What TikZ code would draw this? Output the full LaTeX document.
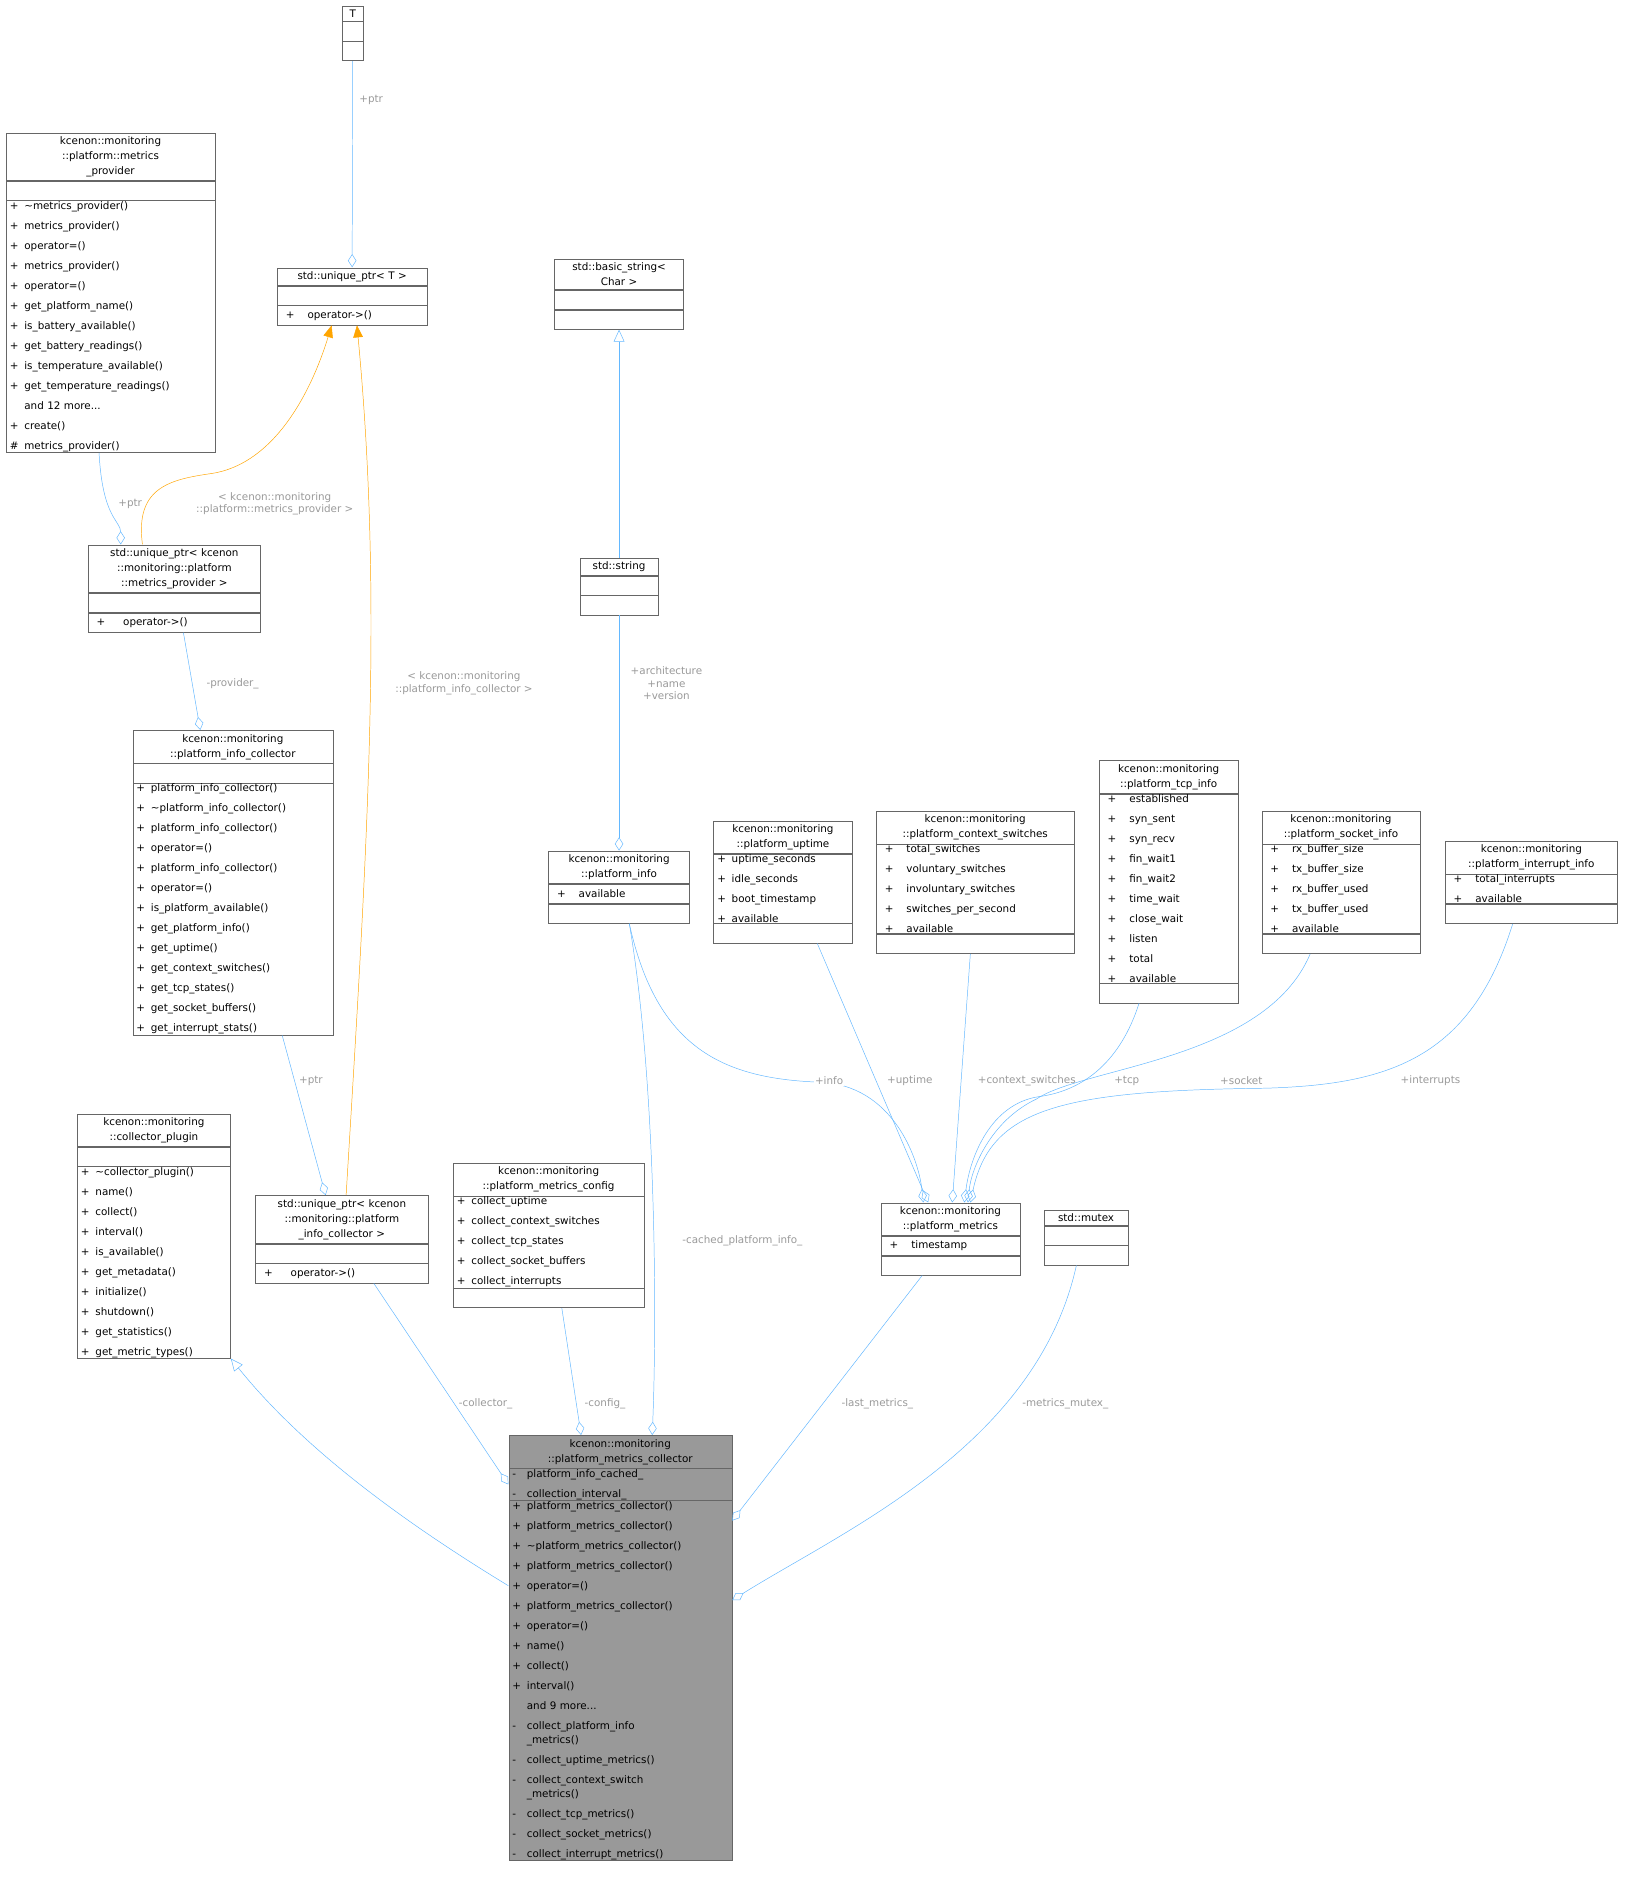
\documentclass[tikz,border=0pt]{standalone}
\usepackage{fontspec}
\setmainfont{DejaVu Sans}
\usetikzlibrary{arrows.meta,fit}
\definecolor{edgec}{HTML}{63B8FF}
\definecolor{orng}{HTML}{FFA500}
\definecolor{lblc}{HTML}{9A9A9A}
\definecolor{boxc}{HTML}{666666}
\definecolor{mainf}{HTML}{999999}
\newcommand\titlefont{\fontsize{8.6}{12.5}\selectfont}
\newcommand\memfont{\fontsize{8.6}{16.6}\selectfont}
\newcommand\vis[1]{\makebox[12pt][l]{#1}}
\newcommand\visw[1]{\makebox[22pt][l]{\hspace{4pt}#1}}
\newcommand\ubox[8]{%
 \node[ttl, fill=#8, text width=#4pt-4pt] (#1-t) at (#2,#3) {#5};
 \node[mem, fill=#8, text width=#4pt-6pt] (#1-a) at (#1-t.south west) {#6};
 \node[mem, fill=#8, text width=#4pt-6pt] (#1-m) at (#1-a.south west) {#7};
 \node[fit=(#1-t)(#1-m), inner sep=0pt] (#1) {};
}
\tikzset{
 ttl/.style={draw=boxc, anchor=north west, align=center, inner xsep=2pt, inner ysep=3pt, font=\titlefont},
 mem/.style={draw=boxc, anchor=north west, align=left, inner xsep=3pt, inner ysep=0.5pt, font=\memfont, minimum height=16pt},
 agg/.style={draw=edgec, -{Diamond[open,length=11pt,width=7pt]}},
 inh/.style={draw=edgec, -{Triangle[open,length=10pt,width=9pt]}},
 tmpl/.style={draw=orng, -{Triangle[length=10pt,width=8pt]}},
 lbl/.style={text=lblc, font=\fontsize{8.6}{10.5}\selectfont, align=center}
}
\begin{document}
\begin{tikzpicture}[x=1pt,y=-1pt]
\useasboundingbox[fill=white] (0,0) rectangle (1350,1570);

\ubox{T}{284}{5}{17}{T}{}{}{white}
\ubox{mp}{5}{110}{173}{kcenon::monitoring\\::platform::metrics\\\_provider}{}{%
\vis{+}\textasciitilde metrics\_provider()\\
\vis{+}metrics\_provider()\\
\vis{+}operator=()\\
\vis{+}metrics\_provider()\\
\vis{+}operator=()\\
\vis{+}get\_platform\_name()\\
\vis{+}is\_battery\_available()\\
\vis{+}get\_battery\_readings()\\
\vis{+}is\_temperature\_available()\\
\vis{+}get\_temperature\_readings()\\
\vis{}and~12~more...\\
\vis{+}create()\\
\vis{\#}metrics\_provider()}{white}
\ubox{upt}{230}{222}{124}{std::unique\_ptr< T >}{}{\visw{+}operator->()}{white}
\ubox{bs}{460}{215}{107}{std::basic\_string<\\Char >}{}{}{white}
\ubox{upmp}{73}{452}{143}{std::unique\_ptr< kcenon\\::monitoring::platform\\::metrics\_provider >}{}{\visw{+}\hspace{4pt}operator->()}{white}
\ubox{str}{481}{463}{65}{std::string}{}{}{white}
\ubox{pic}{110}{606}{166}{kcenon::monitoring\\::platform\_info\_collector}{}{%
\vis{+}platform\_info\_collector()\\
\vis{+}\textasciitilde platform\_info\_collector()\\
\vis{+}platform\_info\_collector()\\
\vis{+}operator=()\\
\vis{+}platform\_info\_collector()\\
\vis{+}operator=()\\
\vis{+}is\_platform\_available()\\
\vis{+}get\_platform\_info()\\
\vis{+}get\_uptime()\\
\vis{+}get\_context\_switches()\\
\vis{+}get\_tcp\_states()\\
\vis{+}get\_socket\_buffers()\\
\vis{+}get\_interrupt\_stats()}{white}
\ubox{pinfo}{455}{706}{117}{kcenon::monitoring\\::platform\_info}{\visw{+}available}{}{white}
\ubox{up}{592}{681}{115}{kcenon::monitoring\\::platform\_uptime}{%
\vis{+}uptime\_seconds\\
\vis{+}idle\_seconds\\
\vis{+}boot\_timestamp\\
\vis{+}available}{}{white}
\ubox{cs}{727}{673}{164}{kcenon::monitoring\\::platform\_context\_switches}{%
\visw{+}total\_switches\\
\visw{+}voluntary\_switches\\
\visw{+}involuntary\_switches\\
\visw{+}switches\_per\_second\\
\visw{+}available}{}{white}
\ubox{tcp}{912}{631}{115}{kcenon::monitoring\\::platform\_tcp\_info}{%
\visw{+}established\\
\visw{+}syn\_sent\\
\visw{+}syn\_recv\\
\visw{+}fin\_wait1\\
\visw{+}fin\_wait2\\
\visw{+}time\_wait\\
\visw{+}close\_wait\\
\visw{+}listen\\
\visw{+}total\\
\visw{+}available}{}{white}
\ubox{sock}{1047}{673}{131}{kcenon::monitoring\\::platform\_socket\_info}{%
\visw{+}rx\_buffer\_size\\
\visw{+}tx\_buffer\_size\\
\visw{+}rx\_buffer\_used\\
\visw{+}tx\_buffer\_used\\
\visw{+}available}{}{white}
\ubox{intr}{1199}{698}{143}{kcenon::monitoring\\::platform\_interrupt\_info}{%
\visw{+}total\_interrupts\\
\visw{+}available}{}{white}
\ubox{plug}{64}{924}{127}{kcenon::monitoring\\::collector\_plugin}{}{%
\vis{+}\textasciitilde collector\_plugin()\\
\vis{+}name()\\
\vis{+}collect()\\
\vis{+}interval()\\
\vis{+}is\_available()\\
\vis{+}get\_metadata()\\
\vis{+}initialize()\\
\vis{+}shutdown()\\
\vis{+}get\_statistics()\\
\vis{+}get\_metric\_types()}{white}
\ubox{upic}{212}{992}{143}{std::unique\_ptr< kcenon\\::monitoring::platform\\\_info\_collector >}{}{\visw{+}\hspace{4pt}operator->()}{white}
\ubox{cfg}{376}{965}{158}{kcenon::monitoring\\::platform\_metrics\_config}{%
\vis{+}collect\_uptime\\
\vis{+}collect\_context\_switches\\
\vis{+}collect\_tcp\_states\\
\vis{+}collect\_socket\_buffers\\
\vis{+}collect\_interrupts}{}{white}
\ubox{pm}{731}{998}{115}{kcenon::monitoring\\::platform\_metrics}{\visw{+}timestamp}{}{white}
\ubox{mtx}{866}{1004}{70}{std::mutex}{}{}{white}
\ubox{main}{422}{1191}{185}{kcenon::monitoring\\::platform\_metrics\_collector}{%
\vis{-}platform\_info\_cached\_\\
\vis{-}collection\_interval\_}{%
\vis{+}platform\_metrics\_collector()\\
\vis{+}platform\_metrics\_collector()\\
\vis{+}\textasciitilde platform\_metrics\_collector()\\
\vis{+}platform\_metrics\_collector()\\
\vis{+}operator=()\\
\vis{+}platform\_metrics\_collector()\\
\vis{+}operator=()\\
\vis{+}name()\\
\vis{+}collect()\\
\vis{+}interval()\\
\vis{}and~9~more...\\
\vis{-}collect\_platform\_info\\[-5pt]
\vis{}\_metrics()\\
\vis{-}collect\_uptime\_metrics()\\
\vis{-}collect\_context\_switch\\[-5pt]
\vis{}\_metrics()\\
\vis{-}collect\_tcp\_metrics()\\
\vis{-}collect\_socket\_metrics()\\
\vis{-}collect\_interrupt\_metrics()}{mainf}

% edges
\draw[agg] (T.south) -- (upt.south |- upt.north);
\node[lbl] (l1) at (308,83) {+ptr};
\draw[inh] (str.north) -- (bs.south);
\draw[agg] ([xshift=-9.5pt]mp.south) .. controls (85,430) and (100,432) .. ([xshift=-44.5pt]upmp.north);
\node[lbl] (l2) at (108,418) {+ptr};
\draw[tmpl] ([xshift=-26.5pt]upmp.north) .. controls (112,405) and (140,398) .. (175,393) .. controls (230,385) and (260,320) .. ([xshift=-17pt]upt.south);
\node[lbl] (l3) at (228,418) {< kcenon::monitoring\\::platform::metrics\_provider >};
\draw[agg] ([xshift=7.5pt]upmp.south) -- ([xshift=-27pt]pic.north);
\node[lbl] (l4) at (193,567) {-provider\_};
\draw[agg] ([xshift=41pt]pic.south) -- ([xshift=-13.5pt]upic.north);
\node[lbl] (l5) at (258,897) {+ptr};
\draw[tmpl] ([xshift=3.5pt]upic.north) .. controls (305,700) and (318,500) .. ([xshift=4pt]upt.south);
\node[lbl] (l6) at (385,567) {< kcenon::monitoring\\::platform\_info\_collector >};
\draw[agg] (str.south) -- (pinfo.north);
\node[lbl] (l7) at (553,567) {+architecture\\+name\\+version};
\draw[agg] ([xshift=8.5pt]pinfo.south) .. controls (545,870) and (600,895) .. (680,898) .. controls (740,900) and (762,960) .. ([xshift=-22.5pt]pm.north);
\node[lbl,fill=white,inner sep=1pt] (l8) at (688,897) {+info};
\draw[agg] ([xshift=28.5pt]up.south) -- ([xshift=-18.5pt]pm.north);
\node[lbl,fill=white,inner sep=1pt] (l9) at (755,897) {+uptime};
\draw[agg] ([xshift=-4pt]cs.south) -- ([xshift=1.5pt]pm.north);
\node[lbl,fill=white,inner sep=1pt] (l10) at (852,897) {+context\_switches};
\draw[agg] ([xshift=-24.5pt]tcp.south) .. controls (930,880) and (900,905) .. (862,910) .. controls (822,916) and (805,960) .. ([xshift=11.5pt]pm.north);
\node[lbl] (l11) at (935,897) {+tcp};
\draw[agg] ([xshift=-25.5pt]sock.south) .. controls (1050,880) and (900,885) .. (860,912) .. controls (822,930) and (806,970) .. ([xshift=14.5pt]pm.north);
\node[lbl] (l12) at (1030,897) {+socket};
\draw[agg] ([xshift=-15.5pt]intr.south) .. controls (1220,880) and (1150,900) .. (1050,903) .. controls (880,905) and (822,920) .. ([xshift=16.5pt]pm.north);
\node[lbl] (l13) at (1187,897) {+interrupts};
\draw[inh] ([yshift=-125pt]main.north west) .. controls (330,1260) and (250,1200) .. (plug.south east);
\draw[agg] ([xshift=26.5pt]upic.south) -- ([yshift=-41pt]main.north west);
\node[lbl] (l14) at (403,1165) {-collector\_};
\draw[agg] ([xshift=11pt]cfg.south) -- ([xshift=-32.5pt]main.north);
\node[lbl] (l15) at (502,1165) {-config\_};
\draw[agg] ([xshift=8.5pt]pinfo.south) .. controls (545,900) and (545,1100) .. ([xshift=26.5pt]main.north);
\node[lbl] (l16) at (616,1030) {-cached\_platform\_info\_};
\draw[agg] ([xshift=-23.5pt]pm.south) -- ([yshift=-71pt]main.north east);
\node[lbl] (l17) at (728,1165) {-last\_metrics\_};
\draw[agg] ([xshift=-8pt]mtx.south) .. controls (860,1200) and (700,1270) .. ([yshift=-137pt]main.north east);
\node[lbl] (l18) at (884,1165) {-metrics\_mutex\_};
\end{tikzpicture}
\end{document}
